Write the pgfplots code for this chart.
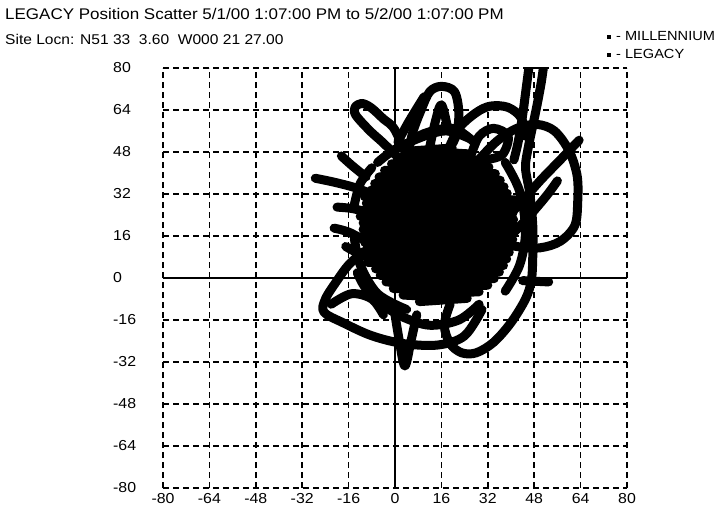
\documentclass[border=0pt]{standalone}
\usepackage{fontspec}
\setmainfont{Liberation Sans}[FakeStretch=1.1]
\usepackage{pgfplots}
\pgfplotsset{compat=1.18}
\pgfplotsset{track/.style={black, line width=9bp, line join=round, line cap=round, no markers},
  strk/.style={track, smooth, tension=0.55}}
\begin{document}
\begin{tikzpicture}
\useasboundingbox (0bp,0bp) rectangle (721bp,-510bp);
\begin{axis}[
  at={(163bp,-488bp)}, anchor=south west,
  scale only axis, width=464bp, height=420bp,
  xmin=-80,xmax=80,ymin=-80,ymax=80,
  xtick={-80,-64,...,80}, ytick={-80,-64,...,80},
  xticklabels={-80,-64,-48,-32,-16,0,16,32,48,64,80},
  yticklabels={-80,-64,-48,-32,-16,0,16,32,48,64,80},
  axis line style={draw=none},
  major tick length=0pt,
  grid=major,
  major grid style={black, line width=1.5bp, dash pattern=on 6bp off 4bp},
  extra x ticks={0}, extra y ticks={0},
  extra x tick labels={}, extra y tick labels={},
  extra tick style={major grid style={black, solid, line width=1.5bp}},
  tick label style={font=\fontsize{14.5}{16}\selectfont, inner sep=0pt},
  xticklabel style={anchor=north, yshift=-5bp},
  yticklabel style={anchor=west, xshift=-50bp},
]
% dense core of the track
\addplot[track] coordinates {
(8.4,-9) (24.9,-7.75) (2.8,-6.5) (29.0,-5.25) (-0.6,-4) (32.0,-2.75)
(-3.1,-1.5) (34.2,-0.25) (-5.1,1) (36.0,2.25) (-6.7,3.5) (37.4,4.75)
(-9.5,6) (38.5,7.25) (-9.0,8.5) (39.4,9.75) (-9.8,11) (41.5,12.25)
(-10.4,13.5) (40.6,14.75) (-10.8,16) (40.9,17.25) (-11.0,18.5) (41,19.75)
(-11,21) (40.9,22.25) (-12,23.5) (40.7,24.75) (-10.5,26) (40.2,27.25)
(-9.9,28.5) (41.5,29.75) (-10.5,31) (38.7,32.25) (-8.2,33.5) (37.6,34.75)
(-7.0,36) (36.3,37.25) (-5.5,38.5) (34.6,39.75) (-3.6,41) (32.4,42.25)
(-1.2,43.5) (29.7,44.75) (2.0,46) (25.9,47.25) (6.9,48.5) (19.7,49.5)};
% loops hugging the core
\addplot[strk] coordinates {(-6,44) (0,49) (10,54) (18,56) (26,53)};
\addplot[strk] coordinates {(-14,15) (-12,5) (-6,-6) (4,-12)};
\addplot[strk] coordinates {(38,44) (43,33) (45,18) (43,5) (38,-5)};
\addplot[strk] coordinates {(-22,-10) (-15,-6) (-8,-8) (-4,-14)};
% outer loops and excursions
\addplot[strk] coordinates {(51.5,83) (50.5,75) (49,66) (47.5,58) (46,50) (45,42) (46.5,32) (47.5,20) (47.5,8) (47,-1) (45,-8) (40,-17) (34,-24.5) (28,-28.5) (23,-28.5) (19,-25) (17,-18) (19,-10)};
\addplot[strk] coordinates {(46.5,83) (45.2,72) (44,62) (42.5,52) (41,45)};
\addplot[strk] coordinates {(30,-12) (24,-22) (15,-25.5) (3,-25) (-8,-22) (-18,-17) (-24.5,-13) (-24,-8) (-20,-1) (-16,5) (-11,10)};
\addplot[strk] coordinates {(0,-14) (1.5,-24) (3.4,-33.5) (5.5,-24) (7.5,-14)};
\addplot[strk] coordinates {(28,44) (35,52) (42,57) (49,58.5) (55,56) (60,48.5) (62.8,39) (63,29) (62,20) (57,14) (50,11.5) (42,12) (36,14)};
\addplot[strk] coordinates {(34,18) (42,27) (50,37) (57,45) (63.5,52.5)};
\addplot[strk] coordinates {(38,14) (45,22) (52,31) (56,37)};
\addplot[strk] coordinates {(18,48) (22,57) (28,63) (33,65.5) (39,65) (43.5,61) (45,54)};
\addplot[strk] coordinates {(26,46) (29,54) (34,57) (39,54) (37,47) (31,45)};
\addplot[strk] coordinates {(4,44) (6,55) (9,64) (12,71) (16,73) (20.5,71) (22,63) (21,54) (17,46)};
\addplot[strk] coordinates {(1,52) (5,60) (10,69)};
\addplot[strk] coordinates {(12,50) (14,60) (16,66) (18,58)};
\addplot[strk] coordinates {(5,44) (-0.1,56.5) (-4.1,60.7) (-8.3,64.9) (-11.5,66.5) (-13.8,65) (-13.5,62) (-8.7,56.1) (-4.5,51.9) (1,46)};
\addplot[strk] coordinates {(-27.5,38) (-21,36.5) (-14,34.5) (-8,32)};
\addplot[strk] coordinates {(-18.5,46.5) (-15,43) (-10,38.5)};
\addplot[strk] coordinates {(-20,27) (-15,26.5) (-9,25)};
\addplot[strk] coordinates {(-21,19) (-16,17.5) (-10,14)};
\addplot[strk] coordinates {(-17,12) (-12,9) (-7,7)};
\addplot[track] coordinates {(44,-1) (53,-1.5)};
\addplot[strk] coordinates {(3,50) (10,55) (20,57) (27,52)};
\addplot[strk] coordinates {(-5,-10) (3,-15) (12,-18) (22,-16) (29,-10)};
\addplot[strk] coordinates {(-13,2) (-10,-4) (-4,-9)};
\addplot[strk] coordinates {(-8,42) (-12,36) (-14,28)};
\end{axis}
\node[anchor=base west, inner sep=0pt, font=\fontsize{15.5}{17}\selectfont] at (5bp,-19bp) {LEGACY Position Scatter 5/1/00 1:07:00 PM to 5/2/00 1:07:00 PM};
\node[anchor=base west, inner sep=0pt, font=\fontsize{14.2}{16}\selectfont] at (5bp,-44bp) {Site Locn: N51 33\ \ 3.60\ \ W000 21 27.00};
\begin{scope}[font=\fontsize{13.3}{15}\selectfont]
\fill (607bp,-39bp) rectangle (611bp,-35bp);
\node[anchor=base west, inner sep=0pt] at (616bp,-40bp) {- MILLENNIUM};
\fill (607bp,-57bp) rectangle (611bp,-53bp);
\node[anchor=base west, inner sep=0pt] at (616bp,-58bp) {- LEGACY};
\end{scope}
\end{tikzpicture}
\end{document}
